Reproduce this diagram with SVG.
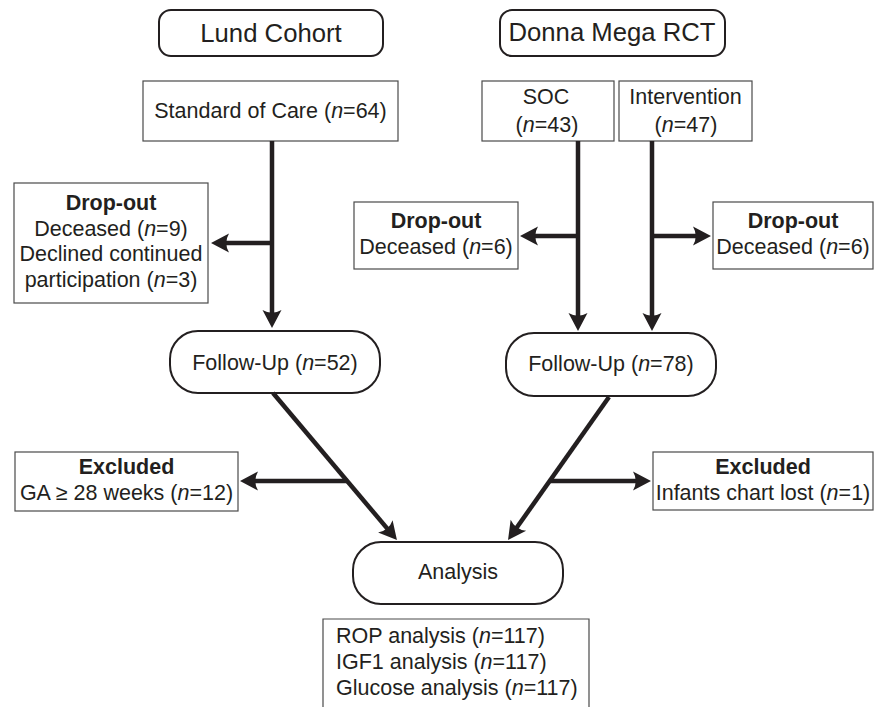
<svg xmlns="http://www.w3.org/2000/svg" width="875" height="707" viewBox="0 0 875 707">
<style>
text{font-family:"Liberation Sans",Arial,sans-serif;font-size:21.5px;fill:#231f20;text-anchor:middle}
.t{font-size:25.7px}
.b{font-weight:bold}
.i{font-style:italic}
.l{text-anchor:start}
.box{fill:#fff;stroke:#4a4a4a;stroke-width:1.2}
.rbox{fill:#fff;stroke:#231f20;stroke-width:2}
.c{fill:none;stroke:#231f20;stroke-width:4.5;marker-end:url(#ah)}
</style>
<defs>
<marker id="ah" markerUnits="userSpaceOnUse" viewBox="-10 -12 24 24" markerWidth="24" markerHeight="24" refX="0" refY="0" orient="auto" overflow="visible">
<path d="M10,0 L-8,-9.5 Q-2.5,0 -8,9.5 Z" fill="#231f20"/>
</marker>
</defs>
<g id="lund-title"><rect class="rbox" x="159" y="10" width="224" height="46" rx="12"/><text class="t" x="271" y="42">Lund Cohort</text></g>
<g id="donna-title"><rect class="rbox" x="500" y="10" width="225" height="46" rx="12"/><text class="t" x="612" y="41">Donna Mega RCT</text></g>
<g id="soc-lund"><rect class="box" x="143" y="81" width="255" height="60"/><text x="270.5" y="118">Standard of Care (<tspan class="i">n</tspan>=64)</text></g>
<g id="soc"><rect class="box" x="482" y="81" width="132" height="60"/><text x="546" y="104">SOC</text><text x="547" y="132">(<tspan class="i">n</tspan>=43)</text></g>
<g id="intervention"><rect class="box" x="619" y="81" width="133" height="60"/><text x="685.5" y="104">Intervention</text><text x="686" y="132">(<tspan class="i">n</tspan>=47)</text></g>
<g id="dropout-lund"><rect class="box" x="14" y="183" width="194" height="120"/><text class="b" x="111" y="210">Drop-out</text><text x="111" y="235.5">Deceased (<tspan class="i">n</tspan>=9)</text><text x="111" y="261">Declined continued</text><text x="111" y="286.5">participation (<tspan class="i">n</tspan>=3)</text></g>
<g id="dropout-soc"><rect class="box" x="354" y="202" width="164" height="67"/><text class="b" x="436" y="228">Drop-out</text><text x="436" y="254">Deceased (<tspan class="i">n</tspan>=6)</text></g>
<g id="dropout-int"><rect class="box" x="713" y="202" width="160" height="67"/><text class="b" x="793" y="228">Drop-out</text><text x="793" y="254">Deceased (<tspan class="i">n</tspan>=6)</text></g>
<g id="followup-lund"><rect class="rbox" x="170" y="331" width="210" height="62" rx="28"/><text x="275" y="370">Follow-Up (<tspan class="i">n</tspan>=52)</text></g>
<g id="followup-donna"><rect class="rbox" x="506" y="333" width="210" height="63" rx="28"/><text x="611" y="371">Follow-Up (<tspan class="i">n</tspan>=78)</text></g>
<g id="excluded-lund"><rect class="box" x="15" y="452" width="223" height="59"/><text class="b" x="126.5" y="474">Excluded</text><text x="126.5" y="500">GA ≥ 28 weeks (<tspan class="i">n</tspan>=12)</text></g>
<g id="excluded-donna"><rect class="box" x="653" y="452" width="220" height="58"/><text class="b" x="763" y="474">Excluded</text><text x="763" y="500">Infants chart lost (<tspan class="i">n</tspan>=1)</text></g>
<g id="analysis"><rect class="rbox" x="353" y="542" width="210" height="62" rx="28"/><text x="458" y="579">Analysis</text></g>
<g id="results"><path d="M323,712 V619 H589 V712" class="box"/><text class="l" x="336" y="643">ROP analysis (<tspan class="i">n</tspan>=117)</text><text class="l" x="336" y="669">IGF1 analysis (<tspan class="i">n</tspan>=117)</text><text class="l" x="336" y="695">Glucose analysis (<tspan class="i">n</tspan>=117)</text></g>
<g id="connectors">
<path class="c" d="M272,141 V318"/>
<path class="c" d="M272,243 H221"/>
<path class="c" d="M578,141 V321"/>
<path class="c" d="M652,141 V321"/>
<path class="c" d="M578,236 H530"/>
<path class="c" d="M652,236 H701"/>
<path class="c" d="M273,393 L390.5,532.4"/>
<path class="c" d="M348,481 H250"/>
<path class="c" d="M609,397 L513.8,531.8"/>
<path class="c" d="M550,481 H641"/>
</g>
</svg>
